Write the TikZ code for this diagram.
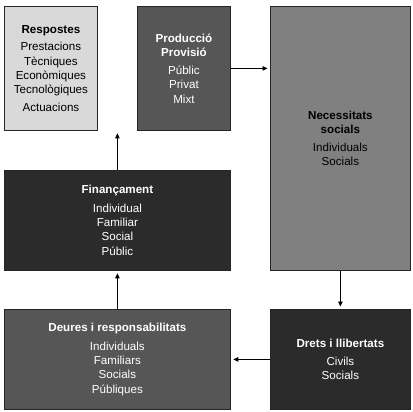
\documentclass[tikz,border=0pt]{standalone}
\usepackage{fontspec}
\setmainfont{Liberation Sans}
\usetikzlibrary{arrows.meta}
\definecolor{cLight}{HTML}{D9D9D9}
\definecolor{cMid}{HTML}{565656}
\definecolor{cGray}{HTML}{808080}
\definecolor{cDark}{HTML}{2B2B2B}
\begin{document}
\begin{tikzpicture}[x=1pt,y=-1pt,
  box/.style={draw=black!85,line width=0.8pt,anchor=north west,align=center,inner sep=0pt,
    font=\fontsize{11.6}{14.3}\selectfont},
  conn/.style={line width=0.7pt,-{Triangle[length=5pt,width=4.5pt]},shorten >=2.5pt}]
\useasboundingbox (0,0) rectangle (412,412);
\node[box,fill=cLight,minimum width=93pt,minimum height=124pt] (resp) at (4,6)
  {\textbf{Respostes}\\[3.5pt]Prestacions\\T\`ecniques\\Econ\`omiques\\Tecnol\`ogiques\\[3.5pt]Actuacions};
\node[box,fill=cMid,text=white,minimum width=93pt,minimum height=124pt] (prod) at (137,6)
  {\textbf{Producci\'o}\\\textbf{Provisi\'o}\\[4pt]P\'ublic\\Privat\\Mixt};
\node[box,fill=cGray,minimum width=140pt,minimum height=264pt] (nec) at (270,6)
  {\textbf{Necessitats}\\\textbf{socials}\\[4pt]Individuals\\Socials};
\node[box,fill=cDark,text=white,minimum width=226pt,minimum height=100pt] (fin) at (4,170)
  {\textbf{Finançament}\\[4pt]Individual\\Familiar\\Social\\P\'ublic};
\node[box,fill=cMid,text=white,minimum width=226pt,minimum height=100pt] (deu) at (4,309)
  {\textbf{Deures i responsabilitats}\\[4pt]Individuals\\Familiars\\Socials\\P\'ubliques};
\node[box,fill=cDark,text=white,minimum width=140pt,minimum height=100pt] (dre) at (270,309)
  {\textbf{Drets i llibertats}\\[4pt]Civils\\Socials};
\draw[conn] (prod.east) -- (prod.east -| nec.west);
\draw[conn] (fin.north) -- (fin.north |- resp.south);
\draw[conn] (deu.north) -- (fin.south);
\draw[conn] (nec.south) -- (dre.north);
\draw[conn] (dre.west) -- (deu.east);
\end{tikzpicture}
\end{document}
